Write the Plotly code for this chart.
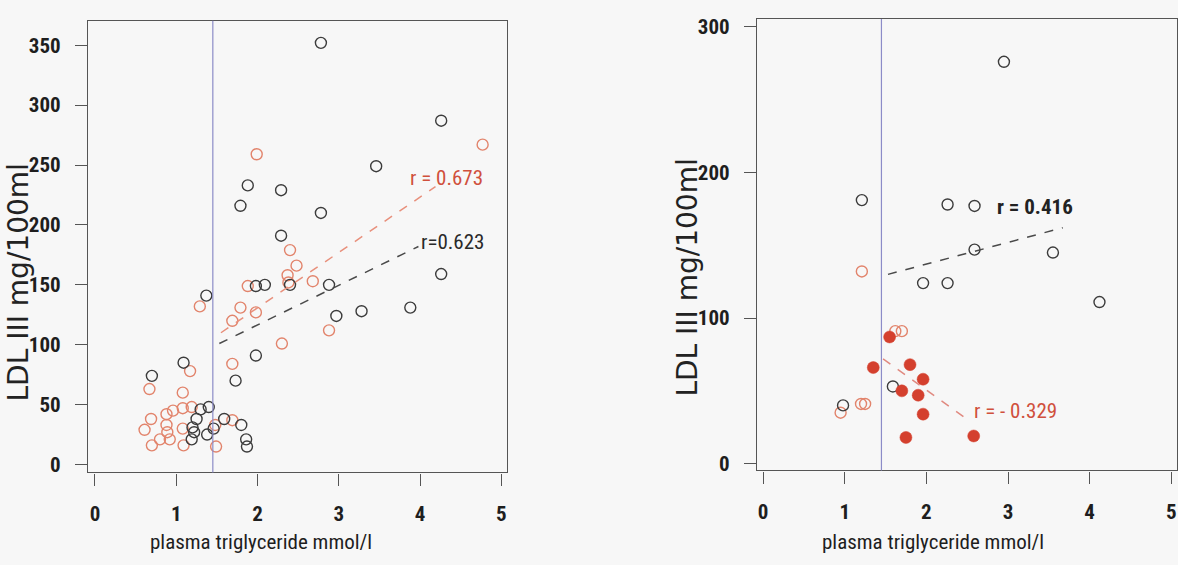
import plotly.graph_objects as go

# ---------------- data ----------------
# Left panel
left_black_x = [0.70, 1.09, 1.37, 1.30, 1.40, 1.25, 1.20, 1.22, 1.19, 1.38, 1.46, 1.59, 1.80, 1.86, 1.87,
                1.73, 1.98, 1.98, 2.09, 2.40, 2.88, 2.97, 3.28, 3.88, 4.26, 2.29, 2.78, 1.79, 1.88, 2.29,
                3.46, 4.26, 2.78]
left_black_y = [74, 85, 141, 46, 48, 38, 31, 27, 21, 25, 30, 38, 33, 21, 15,
                70, 91, 149, 150, 150, 150, 124, 128, 131, 159, 191, 210, 216, 233, 229,
                249, 287, 352]
left_orange_x = [0.67, 0.69, 0.61, 0.70, 0.80, 0.92, 0.88, 0.89, 0.88, 0.96, 1.08, 1.08, 1.08, 1.09,
                 1.19, 1.17, 1.29, 1.48, 1.49, 1.69, 1.69, 1.69, 1.79, 1.88, 1.98, 1.99, 2.30, 2.37,
                 2.38, 2.40, 2.48, 2.68, 2.88, 4.77]
left_orange_y = [63, 38, 29, 16, 21, 21, 33, 27, 42, 45, 60, 47, 30, 16,
                 48, 78, 132, 33, 15, 37, 84, 120, 131, 149, 127, 259, 101, 158,
                 152, 179, 166, 153, 112, 267]
left_black_fit_x = [1.53, 3.98]
left_black_fit_y = [101, 182]
left_orange_fit_x = [1.55, 4.19]
left_orange_fit_y = [110, 232]

# Right panel
right_black_x = [0.98, 1.21, 1.59, 1.96, 2.26, 2.26, 2.59, 2.59, 2.95, 3.55, 4.12]
right_black_y = [40, 181, 53, 124, 124, 178, 177, 147, 276, 145, 111]
right_orange_x = [0.95, 1.20, 1.25, 1.21, 1.62, 1.70]
right_orange_y = [35, 41, 41, 132, 91, 91]
right_red_x = [1.35, 1.55, 1.70, 1.75, 1.80, 1.90, 1.96, 1.96, 2.58]
right_red_y = [66, 87, 50, 18, 68, 47, 58, 34, 19]
right_black_fit_x = [1.53, 3.67]
right_black_fit_y = [130, 162]
right_red_fit_x = [1.47, 2.51]
right_red_fit_y = [72, 30]

cutoff = 1.45
x_ticks = [0, 1, 2, 3, 4, 5]
left_y_ticks = [0, 50, 100, 150, 200, 250, 300, 350]
right_y_ticks = [0, 100, 200, 300]

# ---------------- style ----------------
BLACK = "#3c3c3c"
ORANGE = "#e2846c"
RED = "#d4402e"
NARROW = "Liberation Sans Narrow, Noto Sans Condensed, Roboto Condensed, DejaVu Sans Condensed, sans-serif"
BG = "#f7f7f7"

fig = go.Figure()

def open_pts(x, y, color, xa, ya):
    fig.add_trace(go.Scatter(x=x, y=y, mode="markers", xaxis=xa, yaxis=ya,
                             marker=dict(symbol="circle-open", size=11, color=color,
                                         line=dict(width=1.4, color=color)),
                             showlegend=False, hoverinfo="skip"))

def fit(x, y, color, xa, ya):
    fig.add_trace(go.Scatter(x=x, y=y, mode="lines", xaxis=xa, yaxis=ya,
                             line=dict(color=color, width=1.5, dash="dash"),
                             showlegend=False, hoverinfo="skip"))

# left
open_pts(left_orange_x, left_orange_y, ORANGE, "x", "y")
open_pts(left_black_x, left_black_y, BLACK, "x", "y")
fit(left_orange_fit_x, left_orange_fit_y, "#e8907c", "x", "y")
fit(left_black_fit_x, left_black_fit_y, "#4a4a4a", "x", "y")

# right
open_pts(right_orange_x, right_orange_y, ORANGE, "x2", "y2")
open_pts(right_black_x, right_black_y, BLACK, "x2", "y2")
fig.add_trace(go.Scatter(x=right_red_x, y=right_red_y, mode="markers", xaxis="x2", yaxis="y2",
                         marker=dict(symbol="circle", size=12, color=RED,
                                     line=dict(width=0.5, color=RED)),
                         showlegend=False, hoverinfo="skip"))
fit(right_black_fit_x, right_black_fit_y, "#4a4a4a", "x2", "y2")
fit(right_red_fit_x, right_red_fit_y, "#e08a80", "x2", "y2")

axis_common = dict(showgrid=False, zeroline=False, showline=True, mirror=True,
                   linecolor="#555555", linewidth=1.2, ticks="outside", ticklen=12,
                   tickcolor="#555555", tickwidth=1.2,
                   tickfont=dict(family=NARROW, size=21, color="#1e1e1e", weight="bold"))

fig.update_layout(
    width=1178, height=565,
    margin=dict(l=0, r=0, t=0, b=0),
    paper_bgcolor=BG, plot_bgcolor=BG,
    xaxis=dict(domain=[0.0747, 0.4304], range=[-0.086, 5.07], tickvals=x_ticks, anchor="y",
               ticklabelstandoff=10, **axis_common),
    yaxis=dict(domain=[0.1575, 0.970], range=[-6.6, 370.5], tickvals=left_y_ticks, anchor="x",
               ticklabelstandoff=10, **axis_common),
    xaxis2=dict(domain=[0.6426, 0.9992], range=[-0.074, 5.07], tickvals=x_ticks, anchor="y2",
                ticklabelstandoff=10, **axis_common),
    yaxis2=dict(domain=[0.161, 0.973], range=[-4.7, 305.4], tickvals=right_y_ticks, anchor="x2",
                ticklabelstandoff=10, **axis_common),
    shapes=[
        dict(type="line", xref="x", yref="paper", x0=cutoff, x1=cutoff, y0=0.1575, y1=0.970,
             line=dict(color="#8c8cc8", width=1.2)),
        dict(type="line", xref="x2", yref="paper", x0=cutoff, x1=cutoff, y0=0.161, y1=0.973,
             line=dict(color="#8c8cc8", width=1.2)),
    ],
)

ann = []
# r labels
ann.append(dict(x=4.33, y=239, xref="x", yref="y", text="r = 0.673", showarrow=False,
                font=dict(family=NARROW, size=21, color="#d0503c")))
ann.append(dict(x=4.40, y=186, xref="x", yref="y", text="r=0.623", showarrow=False,
                font=dict(family=NARROW, size=21, color="#2a2a2a")))
ann.append(dict(x=3.33, y=176, xref="x2", yref="y2", text="r = 0.416", showarrow=False,
                font=dict(family=NARROW, size=21, color="#222222", weight="bold")))
ann.append(dict(x=3.09, y=36, xref="x2", yref="y2", text="r = - 0.329", showarrow=False,
                font=dict(family=NARROW, size=21, color="#d0503c")))
# axis titles
for xc in [261 / 1178, 933 / 1178]:
    ann.append(dict(x=xc, y=(565 - 547) / 565, xref="paper", yref="paper",
                    xanchor="center", yanchor="middle",
                    text="plasma triglyceride mmol/l", showarrow=False,
                    font=dict(family=NARROW, size=21, color="#1e1e1e")))
for xc, yc in [(18 / 1178, 283), (688 / 1178, 278)]:
    ann.append(dict(x=xc, y=(565 - yc) / 565, xref="paper", yref="paper",
                    xanchor="center", yanchor="middle",
                    text="LDL III mg/100ml", showarrow=False, textangle=-90,
                    font=dict(family="DejaVu Sans, Arial, sans-serif", size=28, color="#222222")))
fig.update_layout(annotations=ann)

fig.write_html("out.html")
